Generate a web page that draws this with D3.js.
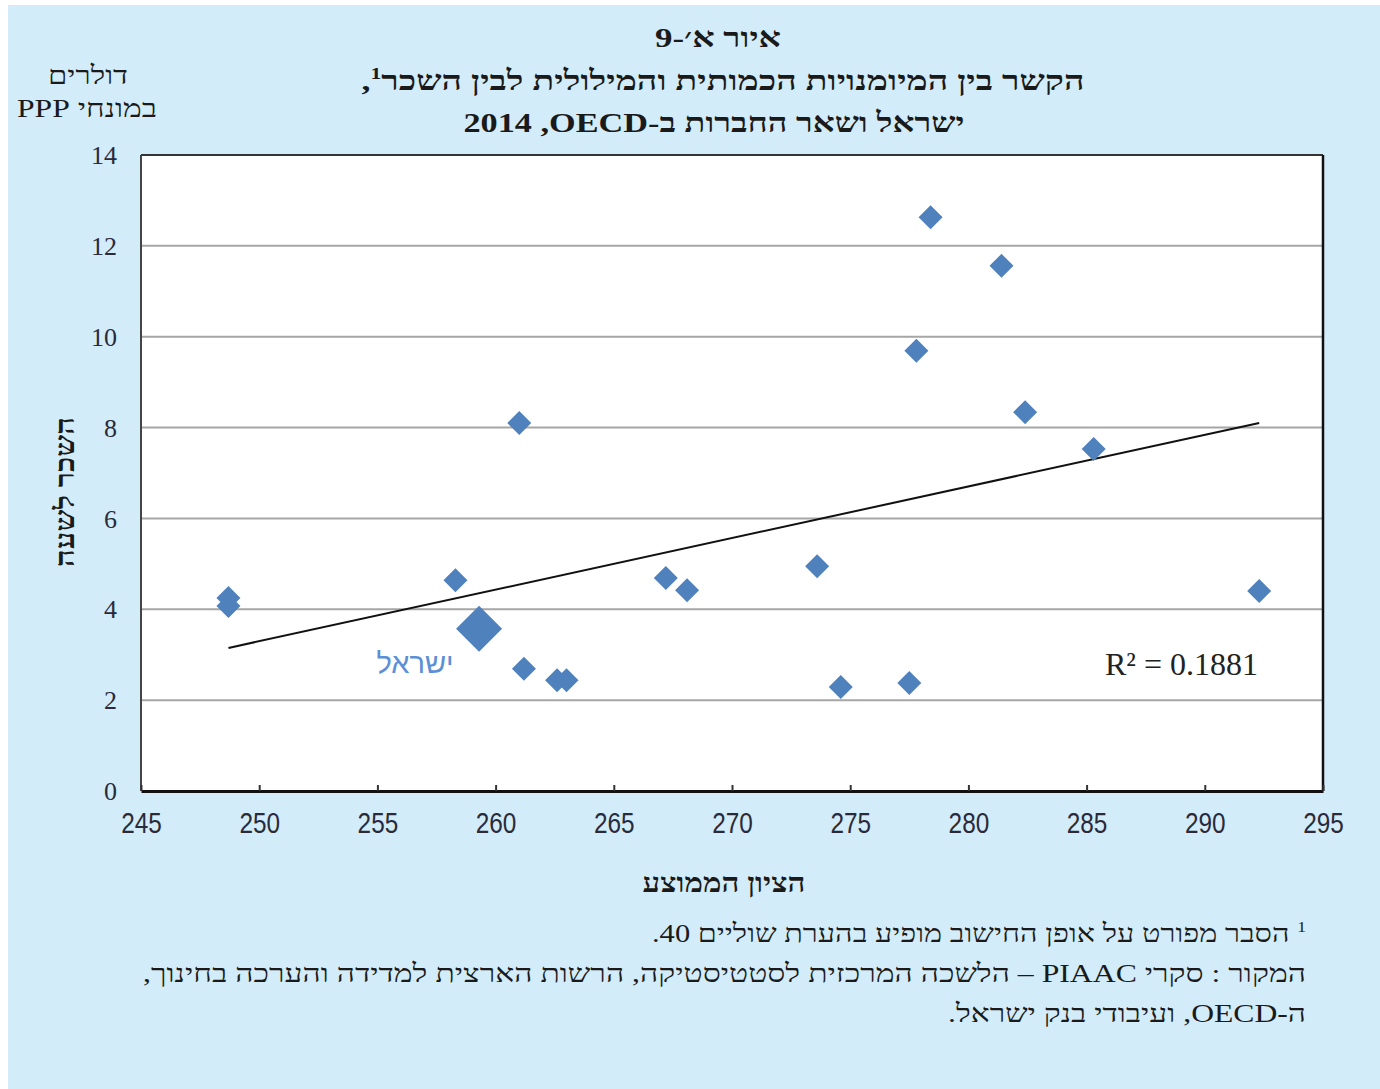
<!DOCTYPE html>
<html><head><meta charset="utf-8">
<script src="https://cdn.jsdelivr.net/npm/d3@7"></script>
<style>
html,body{margin:0;padding:0;background:#fff;}
svg{display:block;}
</style></head>
<body>
<svg id="chart" width="1380" height="1089"></svg>
<script>
// ---- data ----
const scoreX = [248.7, 248.7, 258.3, 261.0, 261.2, 262.6, 263.0, 267.2, 268.1, 273.6, 274.6, 277.5, 277.8, 278.4, 281.4, 282.4, 285.3, 292.3];
const wageY  = [4.25, 4.07, 4.64, 8.10, 2.69, 2.44, 2.44, 4.69, 4.42, 4.95, 2.29, 2.38, 9.69, 12.63, 11.56, 8.34, 7.53, 4.40];
const israelX = [259.3];
const israelY = [3.57];
const trendX = [248.7, 292.3];
const trendY = [3.15, 8.10];
const xTicks = [245, 250, 255, 260, 265, 270, 275, 280, 285, 290, 295];
const yTicks = [0, 2, 4, 6, 8, 10, 12, 14];
const titleLines = ["איור א׳-9", "הקשר בין המיומנויות הכמותית והמילולית לבין השכר", "ישראל ושאר החברות ב-OECD,\u200F 2014"];
const unitLines = ["דולרים", "במונחי PPP"];
const yTitle = "השכר לשעה";
const xTitle = "הציון הממוצע";
const israelLabel = "ישראל";
const r2Label = "R² = 0.1881";
const notes = ["הסבר מפורט על אופן החישוב מופיע בהערת שוליים 40.",
  "המקור : סקרי PIAAC – הלשכה המרכזית לסטטיסטיקה, הרשות הארצית למדידה והערכה בחינוך,",
  "ה-OECD, ועיבודי בנק ישראל."];

const svg = d3.select("#chart");
const serif = "'Liberation Serif','DejaVu Serif',serif";
const sans = "'Liberation Sans',Arial,sans-serif";

svg.append("rect").attr("x", 8).attr("y", 5).attr("width", 1372).attr("height", 1084).attr("fill", "#d3ecf9");

const L = 141, R = 1323, T = 155, B = 791;
const x = d3.scaleLinear().domain([245, 295]).range([L, R]);
const y = d3.scaleLinear().domain([0, 14]).range([B, T]);

svg.append("rect").attr("x", L).attr("y", T).attr("width", R - L).attr("height", B - T).attr("fill", "#fff");

// gridlines
svg.append("g").selectAll("line").data(yTicks.filter(d => d > 0 && d < 14)).join("line")
  .attr("x1", L).attr("x2", R).attr("y1", d => y(d)).attr("y2", d => y(d))
  .attr("stroke", "#a6a6a6").attr("stroke-width", 2);

// borders
svg.append("line").attr("x1", L).attr("x2", R).attr("y1", T).attr("y2", T).attr("stroke", "#333").attr("stroke-width", 2);
svg.append("line").attr("x1", L).attr("x2", L).attr("y1", T).attr("y2", B).attr("stroke", "#444").attr("stroke-width", 2);
svg.append("line").attr("x1", R).attr("x2", R).attr("y1", T).attr("y2", B).attr("stroke", "#111").attr("stroke-width", 2.5);

// x axis
const xAxis = d3.axisBottom(x).tickValues(xTicks).tickSizeInner(-6).tickSizeOuter(0).tickFormat(d3.format("d"));
const gx = svg.append("g").attr("transform", `translate(0,${B})`).call(xAxis);
gx.select(".domain").attr("stroke", "#111").attr("stroke-width", 3);
gx.selectAll(".tick line").attr("stroke", "#333").attr("stroke-width", 2);
gx.selectAll(".tick text").attr("dy", 0).attr("y", 42).attr("transform", "scale(0.84,1)")
  .attr("font-family", sans).attr("font-size", 29).attr("fill", "#2a2a3a");

// y axis
const yAxis = d3.axisLeft(y).tickValues(yTicks).tickSize(0).tickFormat(d3.format("d"));
const gy = svg.append("g").attr("transform", `translate(${L},0)`).call(yAxis);
gy.select(".domain").remove();
gy.selectAll(".tick text").attr("x", -24).attr("dy", "0.33em").attr("font-family", serif).attr("font-size", 26).attr("fill", "#2a2a3a");

// trend line
svg.append("line")
  .attr("x1", x(trendX[0])).attr("y1", y(trendY[0]))
  .attr("x2", x(trendX[1])).attr("y2", y(trendY[1]))
  .attr("stroke", "#111").attr("stroke-width", 2);

// points
const diamond = s => `M0,${-s}L${s},0L0,${s}L${-s},0Z`;
const pts = scoreX.map((v, i) => ({x: v, y: wageY[i]}));
svg.append("g").selectAll("path").data(pts).join("path")
  .attr("d", diamond(12)).attr("transform", d => `translate(${x(d.x)},${y(d.y)})`)
  .attr("fill", "#4f81bd");
svg.append("g").selectAll("path").data(israelX.map((v, i) => ({x: v, y: israelY[i]}))).join("path")
  .attr("d", diamond(23)).attr("transform", d => `translate(${x(d.x)},${y(d.y)})`)
  .attr("fill", "#4f81bd");

// labels inside plot
svg.append("text").attr("x", 415).attr("y", 673).attr("text-anchor", "middle").attr("direction", "rtl")
  .attr("font-family", sans).attr("font-size", 29).attr("fill", "#5b8fd6").text(israelLabel);
svg.append("text").attr("x", 1258).attr("y", 675).attr("text-anchor", "end")
  .attr("font-family", serif).attr("font-size", 32).attr("fill", "#222").text(r2Label);

// helper: stretched text
function stxt(g, cx, cy, anchor, len, str) {
  return g.append("text").attr("x", cx).attr("y", cy).attr("text-anchor", anchor).attr("direction", "rtl")
    .attr("textLength", len).attr("lengthAdjust", "spacingAndGlyphs").text(str);
}

// titles
const tg = svg.append("g").attr("font-family", serif).attr("font-weight", "bold").attr("font-size", 28).attr("fill", "#1a1a1a");
stxt(tg, 718, 47, "middle", 126, titleLines[0]);
const t2 = tg.append("text").attr("x", 723).attr("y", 90).attr("text-anchor", "middle").attr("direction", "rtl")
  .attr("textLength", 723).attr("lengthAdjust", "spacingAndGlyphs");
t2.append("tspan").text(titleLines[1]);
t2.append("tspan").attr("font-size", 17).attr("dy", -11).text("1");
t2.append("tspan").attr("dy", 11).text(",");
stxt(tg, 714, 132, "middle", 501, titleLines[2]);

// units
const ug = svg.append("g").attr("font-family", serif).attr("font-size", 26).attr("fill", "#1a1a1a");
stxt(ug, 88, 84, "middle", 80, unitLines[0]);
stxt(ug, 87, 117, "middle", 140, unitLines[1]);

// axis titles
svg.append("text").attr("transform", `translate(74,492) rotate(-90)`).attr("text-anchor", "middle").attr("direction", "rtl")
  .attr("textLength", 150).attr("lengthAdjust", "spacingAndGlyphs")
  .attr("font-family", serif).attr("font-weight", "bold").attr("font-size", 27).attr("fill", "#1a1a1a").text(yTitle);
const xt = svg.append("g").attr("font-family", serif).attr("font-weight", "bold").attr("font-size", 27).attr("fill", "#1a1a1a");
stxt(xt, 724, 892, "middle", 163, xTitle);

// notes
const ng = svg.append("g").attr("font-family", serif).attr("font-size", 26).attr("fill", "#1a1a1a");
const n1 = ng.append("text").attr("x", 1306).attr("y", 942).attr("text-anchor", "start").attr("direction", "rtl")
  .attr("textLength", 654).attr("lengthAdjust", "spacingAndGlyphs");
n1.append("tspan").attr("font-size", 15).attr("dy", -10).text("1");
n1.append("tspan").attr("dy", 10).text(" " + notes[0]);
stxt(ng, 1306, 982, "start", 1163, notes[1]);
stxt(ng, 1306, 1022, "start", 358, notes[2]);
</script>
</body></html>
